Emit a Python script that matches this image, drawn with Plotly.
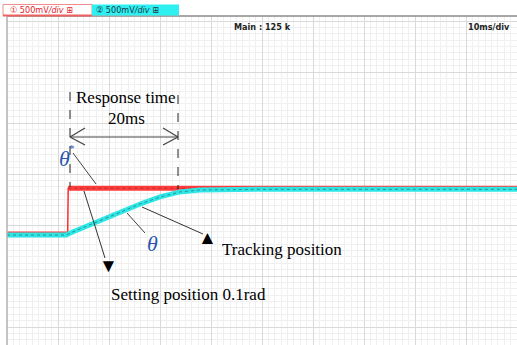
import plotly.graph_objects as go

# ---- data (time in ms, signal in V; 10 ms/div, 500 mV/div) ----
cyan_t = [0.0, 11.6, 12.4, 14.3, 18.2, 22.2, 26.1, 30.0, 33.9, 37.8, 44.3, 49.6, 70.0, 100.0]
cyan_v = [0.902, 0.902, 0.922, 0.961, 1.049, 1.127, 1.206, 1.275, 1.324, 1.343, 1.348, 1.350, 1.350, 1.350]
red_t = [0.0, 11.9, 12.0, 100.0]
red_v = [0.912, 0.912, 1.360, 1.360]

W, H = 517, 345
L, T = 7, 16

def px(x):  # pixel x -> ms
    return (x - L) / 5.1

def py(y):  # pixel y -> V
    return (327 - y) / 102.0

fig = go.Figure()
# red: thin step edge plus thick noisy-looking bands
fig.add_trace(go.Scatter(x=red_t, y=red_v, mode="lines", line=dict(color="#ff2a2a", width=1.5), hoverinfo="skip"))
fig.add_trace(go.Scatter(x=red_t[:2], y=red_v[:2], mode="lines", line=dict(color="#ff3b3b", width=5), hoverinfo="skip"))
fig.add_trace(go.Scatter(x=red_t[2:], y=red_v[2:], mode="lines", line=dict(color="#ff3b3b", width=5), hoverinfo="skip"))
fig.add_trace(go.Scatter(x=red_t[2:], y=red_v[2:], mode="lines", line=dict(color="rgba(90,40,40,0.45)", width=1, dash="dot"), hoverinfo="skip"))
# cyan
fig.add_trace(go.Scatter(x=cyan_t, y=cyan_v, mode="lines", line=dict(color="#2ee6e6", width=5), hoverinfo="skip"))
fig.add_trace(go.Scatter(x=cyan_t, y=cyan_v, mode="lines", line=dict(color="rgba(40,60,60,0.5)", width=1, dash="dot"), hoverinfo="skip"))

shapes = []
def seg(x0, y0, x1, y1, color="#333", width=1, dash="solid"):
    shapes.append(dict(type="line", xref="x", yref="y", x0=px(x0), y0=py(y0), x1=px(x1), y1=py(y1),
                       line=dict(color=color, width=width, dash=dash)))

# plot frame lines
shapes.append(dict(type="line", xref="paper", yref="paper", x0=0, x1=1, y0=1, y1=1, line=dict(color="#8a8a8a", width=1.5)))
shapes.append(dict(type="line", xref="paper", yref="paper", x0=0, x1=0, y0=0, y1=1, line=dict(color="#b0b0b0", width=1.5)))
# header boxes (paper coords beyond plot)
def pyp(y):
    return (H - y) / (H - T)
def pxp(x):
    return (x - L) / (W - L)
shapes.append(dict(type="rect", xref="paper", yref="paper", x0=pxp(3), x1=pxp(92), y0=pyp(15.5), y1=pyp(4.5),
                   fillcolor="white", line=dict(color="#f28c8c", width=1)))
shapes.append(dict(type="line", xref="paper", yref="paper", x0=pxp(3), x1=pxp(92), y0=pyp(15.5), y1=pyp(15.5),
                   line=dict(color="#f06060", width=2)))
shapes.append(dict(type="rect", xref="paper", yref="paper", x0=pxp(92), x1=pxp(179), y0=pyp(15.5), y1=pyp(4.5),
                   fillcolor="#2ff0f0", line=dict(color="#2ff0f0", width=0)))

# dashed response-time markers
seg(70, 92, 70, 187, color="#222", width=1, dash="dash")
seg(178, 95, 178, 189, color="#222", width=1, dash="dash")
# double arrow
seg(70, 137, 178, 137, color="#444", width=1.2)
seg(70, 137, 85, 128, color="#444", width=1.2)
seg(70, 137, 85, 145, color="#444", width=1.2)
seg(178, 137, 163, 128, color="#444", width=1.2)
seg(178, 137, 163, 145, color="#444", width=1.2)
# leader lines
seg(73, 153, 96, 184, color="#444", width=1)
seg(145, 233, 127, 213, color="#444", width=1)
seg(142, 207, 203, 234, color="#333", width=1)
seg(84, 191, 105, 258, color="#333", width=1)

ann = []
def text(x, y, s, size=17, color="black", family="Liberation Serif, Times New Roman, serif", xanchor="center", ref="data"):
    if ref == "data":
        ann.append(dict(x=px(x), y=py(y), xref="x", yref="y", text=s, showarrow=False, xanchor=xanchor, yanchor="middle",
                        font=dict(size=size, color=color, family=family)))
    else:
        ann.append(dict(x=pxp(x), y=pyp(y), xref="paper", yref="paper", text=s, showarrow=False, xanchor=xanchor, yanchor="middle",
                        font=dict(size=size, color=color, family=family)))

text(126, 97, "Response time")
text(126, 118, "20ms")
text(64, 158, "<i>θ</i>", size=22, color="#2a55b0")
text(72, 148, "*", size=11, color="#2a55b0")
text(152, 243, "<i>θ</i>", size=22, color="#2a55b0")
text(207, 237, "▲", size=19)
text(108, 265, "▼", size=19)
text(220, 249, "Tracking position", xanchor="left")
text(109, 294, "Setting position 0.1rad", xanchor="left")

narrow = "Liberation Sans Narrow, Arial Narrow, DejaVu Sans Condensed, sans-serif"
text(8, 10, "① 500mV<i>/div</i> ⊞", size=9, color="#e8202a", family=narrow, xanchor="left", ref="paper")
text(94, 10, "② 500mV<i>/div</i> ⊞", size=9, color="#1a3a4a", family=narrow, xanchor="left", ref="paper")
text(262, 27, "<b>Main : 125 k</b>", size=9, color="#222", family=narrow, ref="paper")
text(512, 27, "<b>10ms/div</b>", size=9, color="#222", family=narrow, xanchor="right", ref="paper")

fig.update_layout(
    width=W, height=H, margin=dict(l=L, r=0, t=T, b=0),
    paper_bgcolor="white", plot_bgcolor="white", showlegend=False,
    shapes=shapes, annotations=ann,
    xaxis=dict(range=[0, 100], dtick=10, tick0=0, showticklabels=False, ticks="", zeroline=False,
               gridcolor="#dadada", gridwidth=1,
               minor=dict(dtick=1.25, gridcolor="#f0f0f0", gridwidth=1, showgrid=True)),
    yaxis=dict(range=[py(H), py(T)], dtick=0.5, tick0=0, showticklabels=False, ticks="", zeroline=False,
               gridcolor="#dadada", gridwidth=1,
               minor=dict(dtick=0.0625, gridcolor="#f0f0f0", gridwidth=1, showgrid=True)),
)

fig.write_html("out.html")
